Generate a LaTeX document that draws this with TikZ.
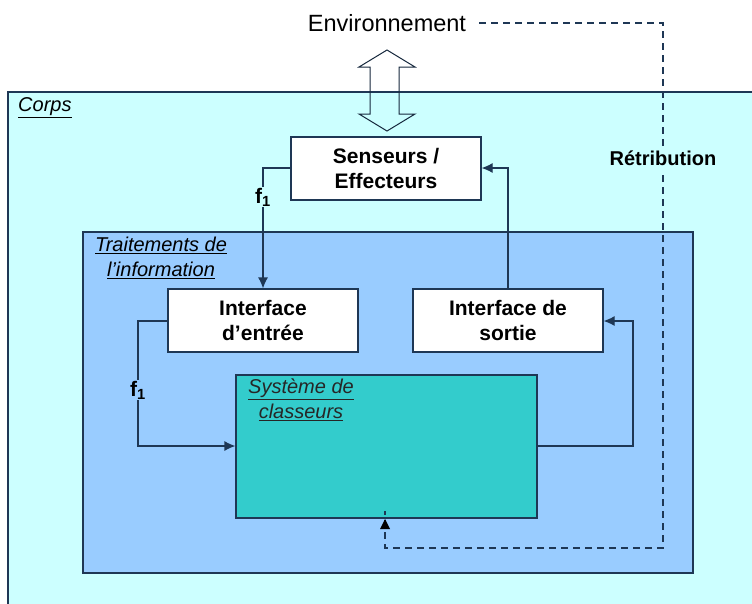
\documentclass[tikz,border=0pt]{standalone}
\usepackage{fontspec}
\setmainfont{Liberation Sans}
\usetikzlibrary{arrows.meta}
\definecolor{corpsfill}{RGB}{204,255,255}
\definecolor{traitfill}{RGB}{153,204,255}
\definecolor{sysfill}{RGB}{51,204,204}
\definecolor{edge}{RGB}{30,55,85}
\tikzset{
  box/.style={draw=edge, line width=1.2pt, fill=white, minimum width=190pt, minimum height=63pt, align=center, font=\fontsize{21}{25}\selectfont\bfseries, inner sep=0pt},
  conn/.style={draw=edge, line width=1.2pt},
  tip/.style={-{Latex[length=11pt,width=10pt]}},
  lab/.style={font=\fontsize{20}{25}\selectfont\itshape, align=center, inner sep=0pt},
  flab/.style={font=\fontsize{21}{25}\selectfont\bfseries, inner sep=1pt},
  retr/.style={draw=edge, line width=1.6pt, dash pattern=on 7pt off 5pt}
}
\begin{document}
\begin{tikzpicture}[x=1pt,y=-1pt]
\useasboundingbox (0,0) rectangle (752,603);
\begin{scope}
\clip (0,0) rectangle (752,603);
% Corps
\draw[draw=edge, line width=1.2pt, fill=corpsfill] (8,92) rectangle (770,620);
\end{scope}
\node[lab, anchor=west] (corps) at (18,108) {\underline{Corps}};
% Traitements
\draw[draw=edge, line width=1.2pt, fill=traitfill] (83,232) rectangle (693,573);
\node[lab] (trait) at (161,258) {\underline{Traitements de}\\\underline{l’information}};
% Systeme
\node[draw=edge, line width=1.2pt, fill=sysfill, minimum width=301pt, minimum height=143pt, inner sep=0pt] (sys) at (386.5,446.5) {};
\node[lab, text=black!85] (syslab) at (301,400) {\underline{Système de}\\\underline{classeurs}};
% Boxes
\node[box] (sens) at (386,168.5) {Senseurs /\\Effecteurs};
\node[box] (ient) at (263,320.5) {Interface\\d’entrée};
\node[box] (isor) at (508,320.5) {Interface de\\sortie};
% Environnement
\node[font=\fontsize{23.5}{28}\selectfont, inner xsep=13pt, inner ysep=2pt] (env) at (387,23) {Environnement};
% double arrow
\draw[draw=edge!70!black, line width=1pt] (387,50) -- (415,67) -- (399,67) -- (399,114) -- (415,114) -- (387,131) -- (359,114) -- (370,114) -- (370,67) -- (359,67) -- cycle;
% connectors
\coordinate (c1) at (263,168);
\draw[conn, tip] (sens.west |- c1) -- (c1) -- (ient.north -| c1);
\node[flab, fill=corpsfill] (f1a) at (263,197) {f\textsubscript{1}};
\coordinate (c2) at (138,321);
\coordinate (c3) at (138,446);
\draw[conn, tip] (ient.west |- c2) -- (c2) -- (c3) -- (sys.west |- c3);
\node[flab, fill=traitfill] (f1b) at (138,390) {f\textsubscript{1}};
\coordinate (c4) at (633,446);
\coordinate (c5) at (633,321);
\draw[conn, tip] (sys.east |- c4) -- (c4) -- (c5) -- (isor.east |- c5);
\coordinate (c6) at (508,168);
\draw[conn, tip] (isor.north) -- (c6) -- (sens.east |- c6);
% Retribution
\coordinate (r1) at (663,23);
\coordinate (r2) at (663,548);
\coordinate (r3) at (385,548);
\draw[retr] (env.east |- r1) -- (r1) -- (r2) -- (r3) -- ([yshift=8pt]sys.south -| r3);
\draw[draw=none, fill=black] (385,519) -- (380,529) -- (390,529) -- cycle;
\node[font=\fontsize{20}{24}\selectfont\bfseries, fill=corpsfill, inner sep=5pt] (retrib) at (663,158) {Rétribution};
\end{tikzpicture}
\end{document}
